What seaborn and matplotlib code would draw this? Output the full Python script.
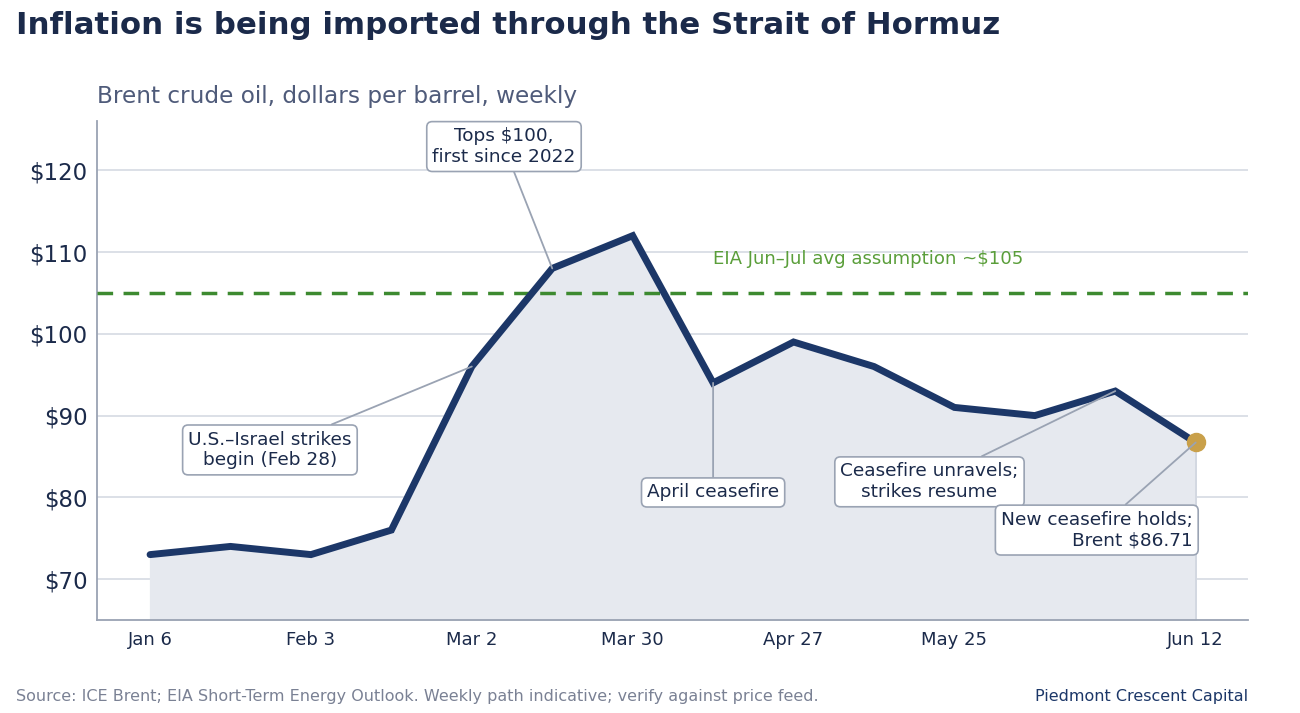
import matplotlib
matplotlib.use("Agg")
import matplotlib.pyplot as plt
import seaborn as sns
import pandas as pd

# ---- data ----
weeks = ["Jan 6", "Jan 20", "Feb 3", "Feb 17", "Mar 2", "Mar 16", "Mar 30",
         "Apr 13", "Apr 27", "May 11", "May 25", "Jun 1", "Jun 5", "Jun 12"]
brent = [73, 74, 73, 76, 96, 108, 112, 94, 99, 96, 91, 90, 93, 86.71]
tick_idx = [0, 2, 4, 6, 8, 10, 13]
tick_labels = ["Jan 6", "Feb 3", "Mar 2", "Mar 30", "Apr 27", "May 25", "Jun 12"]
y_ticks = [70, 80, 90, 100, 110, 120]
eia_level = 105

df = pd.DataFrame({"idx": range(len(brent)), "week": weeks, "brent": brent})

NAVY = "#1c3768"
TEXT = "#1b2a4a"
GRID = "#d5dae3"
SPINE = "#9aa3b3"

sns.set_theme(style="white")
plt.rcParams["font.family"] = ["DejaVu Sans"]

fig = plt.figure(figsize=(13, 7.13), dpi=100)
ax = fig.add_axes([0.0746, 0.1304, 0.8854, 0.6996])

ymin = 65
ax.fill_between(df["idx"], df["brent"], ymin, color="#e6e9ef", zorder=1)
ax.plot([df["idx"].iloc[-1]] * 2, [ymin, df["brent"].iloc[-1]], color="#d0d5df", lw=1.2, zorder=1)
sns.lineplot(data=df, x="idx", y="brent", ax=ax, color=NAVY, lw=5, zorder=4,
             solid_joinstyle="miter")
ax.plot(df["idx"].iloc[-1], df["brent"].iloc[-1], "o", color="#c9a04a", ms=13, zorder=6)

ax.axhline(eia_level, color="#3d8a30", lw=2.5, ls=(0, (4.5, 3)), zorder=3)
ax.text(7.0, eia_level + 3.0, "EIA Jun\u2013Jul avg assumption ~$105", color="#5a9e3a",
        fontsize=13.1, ha="left", va="bottom", zorder=5)

ax.set_xlim(-0.66, 13.65)
ax.set_ylim(ymin, 126)
ax.set_yticks(y_ticks)
ax.set_yticklabels([f"${v}" for v in y_ticks], fontsize=16.5, color=TEXT)
ax.set_xticks(tick_idx)
ax.set_xticklabels(tick_labels, fontsize=13, color=TEXT)
ax.tick_params(axis="both", length=0, pad=8)
ax.tick_params(axis="y", pad=7)
ax.set_xlabel("")
ax.set_ylabel("")
ax.grid(axis="y", color=GRID, lw=1.2, zorder=0)
ax.set_axisbelow(True)
for s in ["top", "right"]:
    ax.spines[s].set_visible(False)
for s in ["left", "bottom"]:
    ax.spines[s].set_color(SPINE)
    ax.spines[s].set_linewidth(1.3)

box = dict(boxstyle="round,pad=0.3,rounding_size=0.3", fc="white", ec=SPINE, lw=1.2)
arrow = dict(arrowstyle="-", color=SPINE, lw=1.3, shrinkA=0, shrinkB=0)

def note(text, xy, xytext, ha="center", ma="center"):
    ax.annotate(text, xy=xy, xytext=xytext, textcoords="data", fontsize=13.3, color=TEXT,
                ha=ha, va="center", multialignment=ma, bbox=box, arrowprops=arrow, zorder=7)

note("Tops $100,\nfirst since 2022", (5, brent[5]), (4.40, 122.9))
note("U.S.\u2013Israel strikes\nbegin (Feb 28)", (4, brent[4]), (1.49, 85.8))
note("April ceasefire", (7, brent[7]), (7.0, 80.6))
note("Ceasefire unravels;\nstrikes resume", (12, brent[12]), (9.69, 81.9))
note("New ceasefire holds;\nBrent $86.71", (13, brent[13]), (11.77, 76.0), ma="right")

fig.text(16 / 1300, 1 - 25 / 713, "Inflation is being imported through the Strait of Hormuz",
         fontsize=22.2, fontweight="bold", color=TEXT, ha="left", va="center")
fig.text(97 / 1300, 1 - 97 / 713, "Brent crude oil, dollars per barrel, weekly",
         fontsize=16.7, color="#4f5b7a", ha="left", va="center")
fig.text(16 / 1300, 1 - 697 / 713,
         "Source: ICE Brent; EIA Short-Term Energy Outlook. Weekly path indicative; verify against price feed.",
         fontsize=11.5, color="#7a8194", ha="left", va="center")
fig.text(1248 / 1300, 1 - 697 / 713, "Piedmont Crescent Capital",
         fontsize=11.5, color=NAVY, ha="right", va="center")

fig.savefig("out.png", dpi=100)
